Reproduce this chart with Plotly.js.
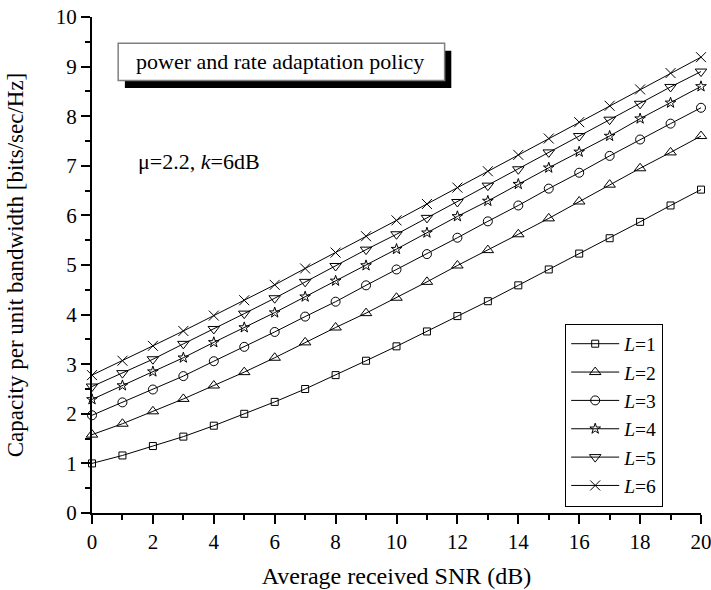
<!DOCTYPE html>
<html>
<head>
<meta charset="utf-8">
<script src="https://cdn.plot.ly/plotly-3.0.1.min.js"></script>
<style>html,body{margin:0;padding:0;background:#fff;}#chart{width:711px;height:590px;}</style>
</head>
<body>
<div id="chart"></div>
<script>
var snr = [0,1,2,3,4,5,6,7,8,9,10,11,12,13,14,15,16,17,18,19,20];
var capL1 = [1.00,1.16,1.35,1.54,1.76,2.00,2.24,2.50,2.78,3.07,3.36,3.66,3.97,4.27,4.59,4.91,5.23,5.54,5.87,6.20,6.52];
var capL2 = [1.58,1.80,2.05,2.30,2.57,2.84,3.13,3.44,3.74,4.03,4.34,4.66,4.99,5.30,5.62,5.94,6.28,6.62,6.95,7.27,7.60];
var capL3 = [1.97,2.23,2.49,2.76,3.06,3.35,3.65,3.96,4.26,4.59,4.91,5.22,5.55,5.88,6.20,6.54,6.86,7.20,7.53,7.85,8.17];
var capL4 = [2.29,2.57,2.85,3.13,3.44,3.74,4.04,4.36,4.68,4.99,5.32,5.65,5.98,6.29,6.63,6.96,7.28,7.60,7.95,8.27,8.60];
var capL5 = [2.55,2.82,3.10,3.41,3.71,4.02,4.33,4.66,4.98,5.31,5.62,5.95,6.27,6.60,6.93,7.27,7.60,7.93,8.25,8.59,8.90];
var capL6 = [2.78,3.07,3.37,3.67,3.98,4.29,4.60,4.93,5.25,5.58,5.90,6.23,6.56,6.89,7.22,7.55,7.88,8.21,8.54,8.87,9.19];
var seriesNames = ['<i>L</i>=1','<i>L</i>=2','<i>L</i>=3','<i>L</i>=4','<i>L</i>=5','<i>L</i>=6'];
var seriesValues = [capL1,capL2,capL3,capL4,capL5,capL6];
var symbols = ['square-open','triangle-up-open','circle-open','star-open','triangle-down-open','x-thin-open'];
var sizes = [7,10,9,8,10,10];

var FONT = 'Liberation Serif, Times New Roman, serif';
var traces = seriesValues.map(function(v,i){
  return {
    x: snr, y: v, name: seriesNames[i], type: 'scatter', mode: 'lines+markers',
    cliponaxis: false,
    line: {color: '#000', width: 1},
    marker: {symbol: symbols[i], size: sizes[i], color: '#000', line: {color: '#000', width: 1}}
  };
});

var layout = {
  width: 711, height: 590,
  margin: {l: 92, r: 10, t: 17, b: 77},
  paper_bgcolor: '#fff', plot_bgcolor: '#fff',
  font: {family: FONT, size: 21, color: '#000'},
  showlegend: true,
  legend: {
    x: 0.777, y: 0.382, xanchor: 'left', yanchor: 'top',
    bgcolor: '#fff', bordercolor: '#000', borderwidth: 1,
    font: {family: FONT, size: 19.5, color: '#000'},
    itemwidth: 48,
    tracegroupgap: 0
  },
  xaxis: {
    range: [0, 20], dtick: 2, tick0: 0,
    showgrid: false, zeroline: false, showline: true, linecolor: '#000', linewidth: 2,
    ticks: 'outside', ticklen: 9, tickwidth: 2, tickcolor: '#000',
    minor: {dtick: 1, ticks: 'outside', ticklen: 5, tickwidth: 2, tickcolor: '#000'},
    tickfont: {family: FONT, size: 21},
    ticklabeloverflow: 'allow',
    title: {text: 'Average received SNR (dB)', font: {family: FONT, size: 24}, standoff: 14}
  },
  yaxis: {
    range: [0, 10], dtick: 1, tick0: 0,
    showgrid: false, zeroline: false, showline: true, linecolor: '#000', linewidth: 2,
    ticks: 'outside', ticklen: 9, tickwidth: 2, tickcolor: '#000',
    minor: {dtick: 0.5, ticks: 'outside', ticklen: 5, tickwidth: 2, tickcolor: '#000'},
    tickfont: {family: FONT, size: 21},
    title: {text: 'Capacity per unit bandwidth [bits/sec/Hz]', font: {family: FONT, size: 23}, standoff: 26}
  },
  shapes: [
    {type: 'rect', xref: 'paper', yref: 'paper', x0: 0.054, x1: 0.590, y0: 0.857, y1: 0.932,
     fillcolor: '#000', line: {color: '#000', width: 0}},
    {type: 'rect', xref: 'paper', yref: 'paper', x0: 0.043, x1: 0.579, y0: 0.872, y1: 0.947,
     fillcolor: '#fff', line: {color: '#808080', width: 1.5}}
  ],
  annotations: [
    {xref: 'paper', yref: 'paper', x: 0.308, y: 0.9095, xanchor: 'center', yanchor: 'middle',
     text: 'power and rate adaptation policy', showarrow: false, font: {family: FONT, size: 22}},
    {xref: 'paper', yref: 'paper', x: 0.072, y: 0.708, xanchor: 'left', yanchor: 'middle',
     text: '\u03bc=2.2, <i>k</i>=6dB', showarrow: false, font: {family: FONT, size: 22}}
  ]
};

Plotly.newPlot('chart', traces, layout, {displayModeBar: false, staticPlot: true});
</script>
</body>
</html>
